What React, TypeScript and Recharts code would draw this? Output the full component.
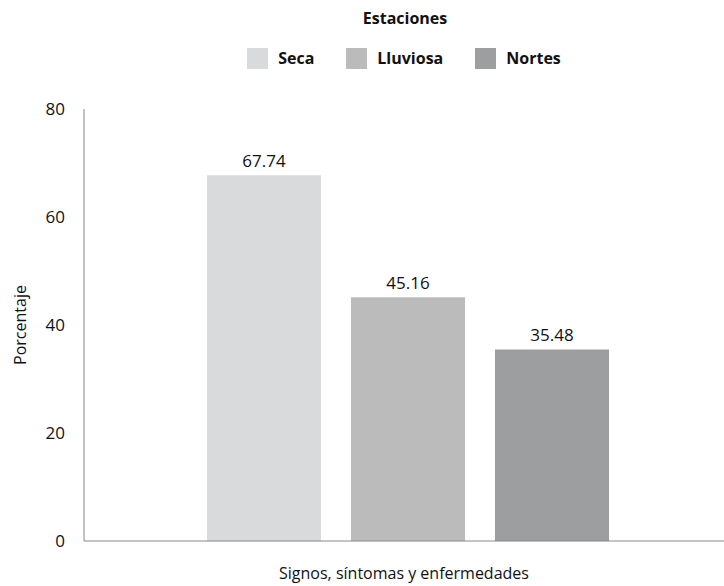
import { BarChart, Bar, XAxis, YAxis, LabelList } from 'recharts';

const categories = ['Signos, síntomas y enfermedades'];
const seasons = ['Seca', 'Lluviosa', 'Nortes'];
const seca = [67.74];
const lluviosa = [45.16];
const nortes = [35.48];
const yTicks = [0, 20, 40, 60, 80];

const colors = ['#d9dadc', '#bbbbbc', '#9d9ea0'];
const font = '"Open Sans", "Noto Sans", sans-serif';

const data = categories.map((name, i) => ({
    name,
    Seca: seca[i],
    Lluviosa: lluviosa[i],
    Nortes: nortes[i],
}));

function SeasonLegend() {
    return (
        <div style={{ position: 'absolute', left: 0, top: 0, width: 724, fontFamily: font, color: '#111', textAlign: 'center' }}>
            <div style={{ fontWeight: 700, fontSize: 16, lineHeight: '22px', marginTop: 7, paddingLeft: 86 }}>
                Estaciones
            </div>
            <div style={{ display: 'flex', justifyContent: 'center', marginTop: 18, paddingLeft: 84 }}>
                {seasons.map((s, i) => (
                    <div key={s} style={{ display: 'flex', alignItems: 'center', marginRight: i < 2 ? 32 : 0 }}>
                        <span style={{ width: 21, height: 21, background: colors[i], display: 'inline-block', marginRight: 10 }} />
                        <span style={{ fontWeight: 700, fontSize: 16 }}>{s}</span>
                    </div>
                ))}
            </div>
        </div>
    );
}

export default function App() {
    return (
        <div style={{ position: 'absolute', left: 0, top: 0, width: 724, height: 586, background: '#fff' }}>
            <BarChart
                width={724}
                height={586}
                data={data}
                margin={{ top: 109, right: 0, bottom: 0, left: 0 }}
                barGap={30}
            >
                <XAxis
                    dataKey="name"
                    tick={false}
                    tickLine={false}
                    height={45}
                    axisLine={{ stroke: '#868686' }}
                    padding={{ left: 8, right: 0 }}
                    label={{ value: categories[0], position: 'insideBottom', offset: 7, fill: '#111', fontSize: 16, fontFamily: font }}
                />
                <YAxis
                    domain={[0, 80]}
                    ticks={yTicks}
                    width={84}
                    tickLine={false}
                    tickSize={0}
                    tickMargin={19}
                    axisLine={{ stroke: '#868686' }}
                    tick={{ fill: '#111', fontSize: 17, fontFamily: font }}
                    label={{ value: 'Porcentaje', angle: -90, position: 'insideLeft', offset: 20, fill: '#111', fontSize: 16, fontFamily: font, style: { textAnchor: 'middle' } }}
                />
                {seasons.map((s, i) => (
                    <Bar key={s} dataKey={s} fill={colors[i]} barSize={114} isAnimationActive={false}>
                        <LabelList dataKey={s} position="top" offset={8} fill="#111" fontSize={17} fontFamily={font} />
                    </Bar>
                ))}
            </BarChart>
            <SeasonLegend />
        </div>
    );
}
